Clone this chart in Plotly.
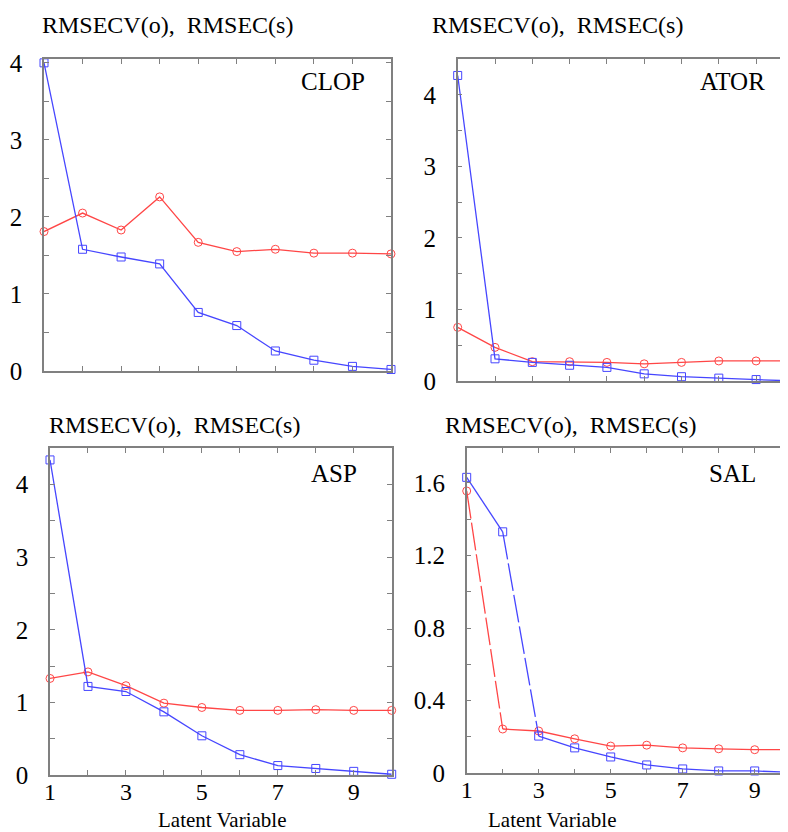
import plotly.graph_objects as go

# the page adds an 8px body margin, so the figure is drawn 8px in from the window corner
OFF = 8
W, H = 788 - OFF, 832 - OFF
lv = [1, 2, 3, 4, 5, 6, 7, 8, 9, 10]

# CLOP
clop_cv = [1.81, 2.05, 1.83, 2.26, 1.67, 1.55, 1.58, 1.53, 1.53, 1.52]
clop_c = [4.00, 1.58, 1.48, 1.39, 0.76, 0.59, 0.26, 0.14, 0.06, 0.02]
# ATOR
ator_cv = [0.75, 0.47, 0.27, 0.27, 0.26, 0.24, 0.26, 0.28, 0.28, 0.28]
ator_c = [4.27, 0.31, 0.26, 0.22, 0.19, 0.10, 0.06, 0.04, 0.02, 0.00]
# ASP
asp_cv = [1.33, 1.42, 1.23, 0.99, 0.93, 0.89, 0.89, 0.90, 0.89, 0.89]
asp_c = [4.34, 1.22, 1.15, 0.87, 0.54, 0.28, 0.13, 0.09, 0.05, 0.01]
# SAL
sal_cv = [1.555, 0.244, 0.233, 0.19, 0.15, 0.155, 0.14, 0.135, 0.13, 0.13]
sal_c = [1.63, 1.33, 0.205, 0.14, 0.09, 0.046, 0.024, 0.013, 0.013, 0.005]

panel_names = ["CLOP", "ATOR", "ASP", "SAL"]
y_title = "RMSECV(o),\u00a0\u00a0RMSEC(s)"
x_title = "Latent Variable"

x_ticks = [1, 3, 5, 7, 9]
y_ticks_a = [0, 1, 2, 3, 4]
y_ticks_sal = [0, 0.4, 0.8, 1.2, 1.6]
y_ticktext_sal = ["0", "0.4", "0.8", "1.2", "1.6"]

RED = "rgb(255,70,70)"
BLUE = "rgb(70,70,255)"
AX = "rgb(128,128,128)"
FONT = "Liberation Serif"
DASH = "28px,4px"


def px_x(p):
    return (p - OFF) / W


def px_y(p):
    return 1 - (p - OFF) / H


# pixel boxes in window coordinates: left, right, top, bottom
boxes = [
    (44, 391, 59, 371),
    (457.7, 788, 59, 381),
    (50, 391.7, 448.3, 775),
    (466.7, 788, 448.3, 773.3),
]
xranges = [[1, 10], [1, 1 + (788 - 457.7) / 37.3], [1, 10], [1, 1 + (788 - 466.7) / 36.0]]
yranges = [[0, 4.05], [0, 4.5], [0, 4.5], [0, 1.79]]

fig = go.Figure()

series = [(clop_cv, clop_c), (ator_cv, ator_c), (asp_cv, asp_c), (sal_cv, sal_c)]
for i, (cv, c) in enumerate(series):
    xa = "x" if i == 0 else f"x{i+1}"
    ya = "y" if i == 0 else f"y{i+1}"
    if i == 3:
        # dashed drop segments as in the reference
        fig.add_trace(go.Scatter(x=lv[0:2], y=cv[0:2], mode="lines", xaxis=xa, yaxis=ya,
                                 line=dict(color=RED, width=1.3, dash=DASH), showlegend=False))
        fig.add_trace(go.Scatter(x=lv[1:], y=cv[1:], mode="lines", xaxis=xa, yaxis=ya,
                                 line=dict(color=RED, width=1.3), showlegend=False))
        fig.add_trace(go.Scatter(x=lv, y=cv, mode="markers", xaxis=xa, yaxis=ya, cliponaxis=False,
                                 marker=dict(symbol="circle-open", size=8, color=RED, line=dict(width=1)),
                                 showlegend=False))
        fig.add_trace(go.Scatter(x=lv[0:2], y=c[0:2], mode="lines", xaxis=xa, yaxis=ya,
                                 line=dict(color=BLUE, width=1.3), showlegend=False))
        fig.add_trace(go.Scatter(x=lv[1:3], y=c[1:3], mode="lines", xaxis=xa, yaxis=ya,
                                 line=dict(color=BLUE, width=1.3, dash=DASH), showlegend=False))
        fig.add_trace(go.Scatter(x=lv[2:], y=c[2:], mode="lines", xaxis=xa, yaxis=ya,
                                 line=dict(color=BLUE, width=1.3), showlegend=False))
        fig.add_trace(go.Scatter(x=lv, y=c, mode="markers", xaxis=xa, yaxis=ya, cliponaxis=False,
                                 marker=dict(symbol="square-open", size=8, color=BLUE, line=dict(width=1)),
                                 showlegend=False))
    else:
        fig.add_trace(go.Scatter(x=lv, y=cv, mode="lines+markers", xaxis=xa, yaxis=ya, cliponaxis=False,
                                 line=dict(color=RED, width=1.3),
                                 marker=dict(symbol="circle-open", size=8, color=RED, line=dict(width=1)),
                                 showlegend=False))
        fig.add_trace(go.Scatter(x=lv, y=c, mode="lines+markers", xaxis=xa, yaxis=ya, cliponaxis=False,
                                 line=dict(color=BLUE, width=1.3),
                                 marker=dict(symbol="square-open", size=8, color=BLUE, line=dict(width=1)),
                                 showlegend=False))

layout = dict(
    width=W, height=H, margin=dict(l=0, r=0, t=0, b=0, autoexpand=False),
    paper_bgcolor="white", plot_bgcolor="white",
    font=dict(family=FONT, color="black", size=22),
)

for i, (l, r, t, b) in enumerate(boxes):
    xk = "xaxis" if i == 0 else f"xaxis{i+1}"
    yk = "yaxis" if i == 0 else f"yaxis{i+1}"
    xa = "x" if i == 0 else f"x{i+1}"
    ya = "y" if i == 0 else f"y{i+1}"
    bottom = i >= 2
    layout[xk] = dict(
        domain=[px_x(l), min(px_x(r), 1)], anchor=ya, range=xranges[i], automargin=False,
        showgrid=False, zeroline=False, showline=True, linecolor=AX, linewidth=1.5, mirror="ticks",
        ticks="inside", ticklen=5, tickcolor=AX, tickwidth=1,
        tickvals=x_ticks, showticklabels=bottom, tickfont=dict(size=24, family=FONT, color="black"),
        minor=dict(dtick=1, tick0=1, ticks="inside", ticklen=5, tickcolor=AX),
        ticklabelstandoff=-6,
    )
    if i == 3:
        yt, ytt, ydt = y_ticks_sal, y_ticktext_sal, 0.2
    else:
        yt, ytt, ydt = y_ticks_a, [str(v) for v in y_ticks_a], 0.5
    layout[yk] = dict(
        domain=[px_y(b), px_y(t)], anchor=xa, range=yranges[i], automargin=False,
        showgrid=False, zeroline=False, showline=True, linecolor=AX, linewidth=1.5, mirror="ticks",
        ticks="inside", ticklen=5, tickcolor=AX, tickwidth=1,
        tickvals=yt, ticktext=ytt, tickfont=dict(size=25, family=FONT, color="black"),
        minor=dict(dtick=ydt, tick0=0, ticks="inside", ticklen=5, tickcolor=AX),
        ticklabelstandoff=15,
    )

annotations = []
title_pos = [(40, 25), (430, 25), (47, 425), (443, 425)]
name_pos = [(333, 82), (732, 82), (334, 473), (732, 473)]
for (tx, ty), (nx, ny), name in zip(title_pos, name_pos, panel_names):
    annotations.append(dict(text=y_title, x=px_x(tx), y=px_y(ty), xref="paper", yref="paper",
                            xanchor="left", yanchor="middle", showarrow=False,
                            font=dict(size=24, family=FONT)))
    annotations.append(dict(text=name, x=px_x(nx), y=px_y(ny), xref="paper", yref="paper",
                            xanchor="center", yanchor="middle", showarrow=False,
                            font=dict(size=25, family=FONT)))
for cx in (221.7, 552):
    annotations.append(dict(text=x_title, x=px_x(cx), y=px_y(820), xref="paper", yref="paper",
                            xanchor="center", yanchor="middle", showarrow=False,
                            font=dict(size=21, family=FONT)))
layout["annotations"] = annotations

fig.update_layout(**layout)
fig.write_html("out.html")
